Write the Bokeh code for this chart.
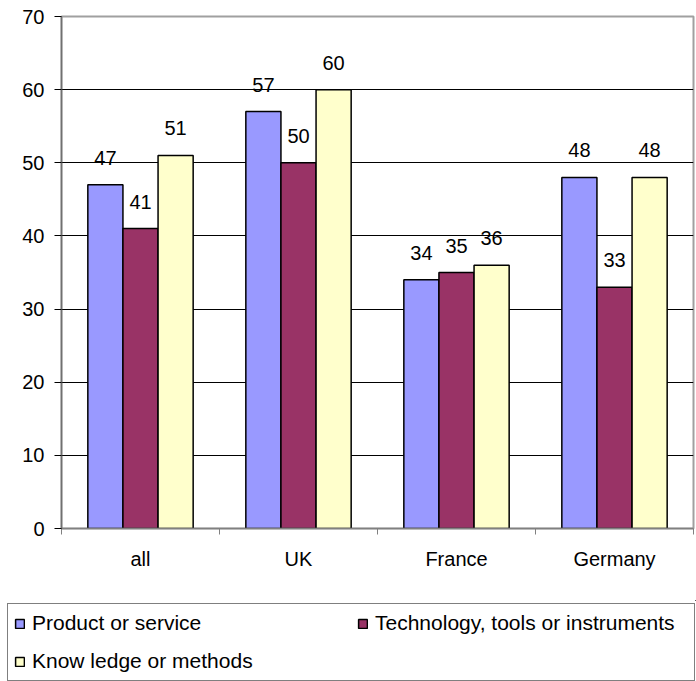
import numpy as np
from bokeh.plotting import figure
from bokeh.models import (ColumnDataSource, FixedTicker, Range1d, Legend, LegendItem)
from bokeh.core.properties import value
from bokeh.embed import file_html
from bokeh.resources import INLINE

categories = ["all", "UK", "France", "Germany"]
series_names = ["Product or service", "Technology, tools or instruments", "Know ledge or methods"]
product = [47, 57, 34, 48]
technology = [41, 50, 35, 33]
knowledge = [51, 60, 36, 48]
y_ticks = [0, 10, 20, 30, 40, 50, 60, 70]

colors = ["#9999FF", "#993366", "#FFFFCC"]
FONT = "Liberation Sans"
bar_w = 1 / 4.5

p = figure(width=696, height=600, output_backend="svg", toolbar_location=None,
           x_range=Range1d(0, len(categories)), y_range=Range1d(0, 70),
           min_border_left=61, min_border_right=3, min_border_top=16,
           min_border_bottom=72)
p.outline_line_color = "#a0a0a0"
p.outline_line_width = 2
p.background_fill_color = "white"
p.border_fill_color = "white"

# legend panel (separate root so it is not aligned to the chart frame);
# its ranges keep the proxy renderers out of view
pl = figure(width=696, height=81, output_backend="svg", toolbar_location=None,
            x_axis_type=None, y_axis_type=None, min_border=0,
            x_range=Range1d(-20, -19), y_range=Range1d(-20, -19))
pl.outline_line_color = None
pl.grid.visible = False

idx = np.arange(len(categories)) + 0.5
legend_renderers = []
for k, (vals, col) in enumerate(zip([product, technology, knowledge], colors)):
    xs = idx + (k - 1) * bar_w
    src = ColumnDataSource(dict(x=xs, top=vals, lab=[str(v) for v in vals]))
    p.vbar(x="x", top="top", bottom=0, width=bar_w, source=src,
           fill_color=col, line_color="black", line_width=1.5)
    p.text(x="x", y="top", text="lab", source=src, text_align="center",
           text_baseline="alphabetic", y_offset=-27,
           text_font=value(FONT), text_font_size="20px", text_color="black")
    legend_renderers.append(pl.vbar(x="x", top="top", bottom=0, width=bar_w, source=src,
                                    fill_color=col, line_color="black", line_width=1.5))

# x axis
p.xaxis.ticker = FixedTicker(ticks=list(idx), minor_ticks=list(range(len(categories) + 1)))
p.xaxis.major_label_overrides = {float(i): c for i, c in zip(idx, categories)}
p.xaxis.major_tick_out = 0
p.xaxis.major_tick_in = 0
p.xaxis.minor_tick_out = 6
p.xaxis.minor_tick_in = 0
p.xaxis.minor_tick_line_color = "#808080"
p.xaxis.axis_line_color = "#808080"
p.xaxis.axis_line_width = 1.5
p.xaxis.major_label_standoff = 13
p.xaxis.major_label_text_font = FONT
p.xaxis.major_label_text_font_size = "20px"
p.xaxis.major_label_text_color = "black"
p.xgrid.visible = False

# y axis
p.yaxis.ticker = FixedTicker(ticks=y_ticks, minor_ticks=[])
p.yaxis.major_tick_out = 7
p.yaxis.major_tick_in = 0
p.yaxis.major_tick_line_color = "black"
p.yaxis.axis_line_color = "#707070"
p.yaxis.axis_line_width = 1.5
p.yaxis.major_label_standoff = 10
p.yaxis.major_label_text_font = FONT
p.yaxis.major_label_text_font_size = "20px"
p.yaxis.major_label_text_color = "black"
p.ygrid.ticker = FixedTicker(ticks=y_ticks[1:-1], minor_ticks=[])
p.ygrid.grid_line_color = "black"
p.ygrid.grid_line_width = 1

# order so that the column-major grid reads row by row like the reference
order = [0, 2, 1]
items = [LegendItem(label=series_names[i], renderers=[legend_renderers[i]]) for i in order]
legend = Legend(items=items, ncols=2, location=(7, 0),
                border_line_color="black", border_line_width=1,
                background_fill_color="white", background_fill_alpha=1,
                label_text_font=FONT, label_text_font_size="21px", label_text_color="black",
                glyph_width=11, glyph_height=11, label_standoff=7,
                label_height=26, spacing=12, padding=6, label_width=313, margin=0)
pl.add_layout(legend)

open("out.html", "w").write(file_html([p, pl], INLINE))
